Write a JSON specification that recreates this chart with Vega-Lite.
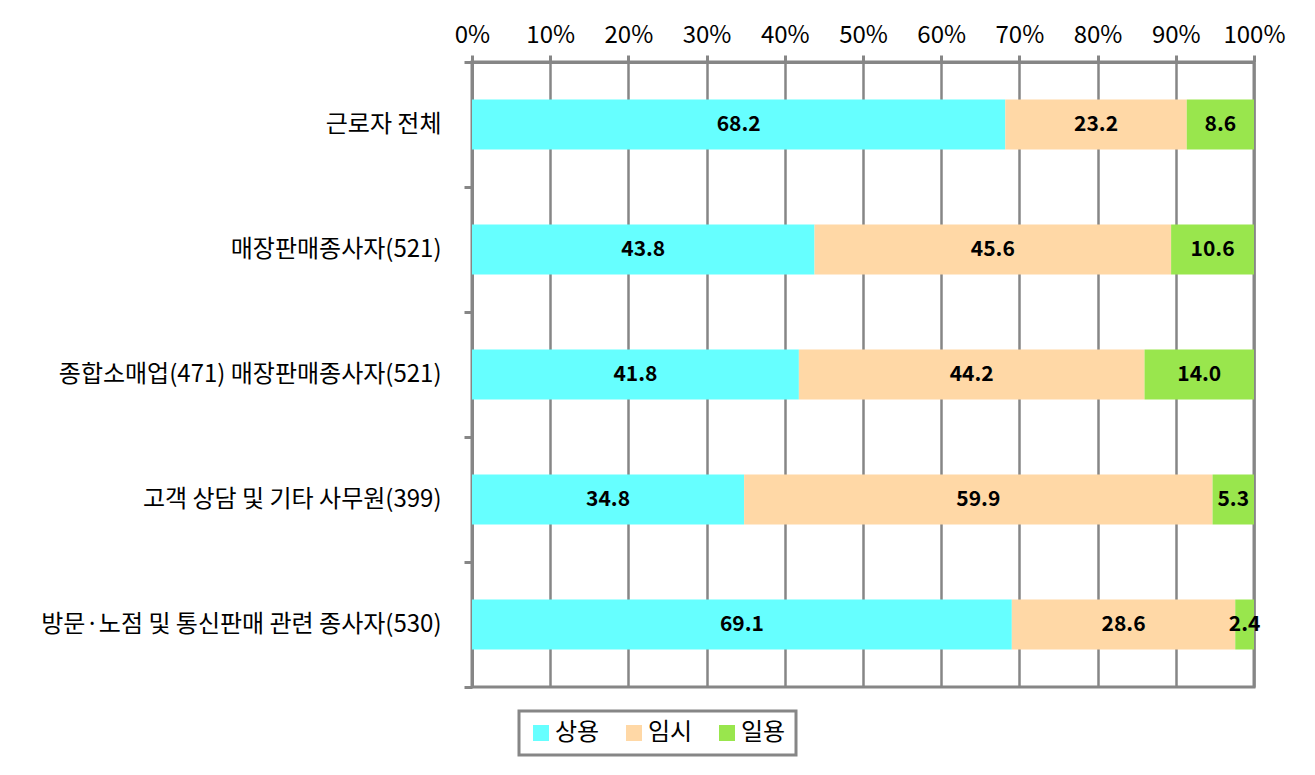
{
  "$schema": "https://vega.github.io/schema/vega-lite/v6.json",
  "width": 782,
  "height": 625,
  "autosize": {"type": "none"},
  "padding": {"left": 472, "top": 62, "right": 61, "bottom": 88},
  "background": "white",
  "config": {
    "font": "Noto Sans CJK KR",
    "view": {"stroke": "#868686", "strokeWidth": 3}
  },
  "data": {
    "values": [
      {"cat": "근로자 전체", "type": "상용", "ord": 1, "v": 68.2},
      {"cat": "근로자 전체", "type": "임시", "ord": 2, "v": 23.2},
      {"cat": "근로자 전체", "type": "일용", "ord": 3, "v": 8.6},
      {"cat": "매장판매종사자(521)", "type": "상용", "ord": 1, "v": 43.8},
      {"cat": "매장판매종사자(521)", "type": "임시", "ord": 2, "v": 45.6},
      {"cat": "매장판매종사자(521)", "type": "일용", "ord": 3, "v": 10.6},
      {"cat": "종합소매업(471) 매장판매종사자(521)", "type": "상용", "ord": 1, "v": 41.8},
      {"cat": "종합소매업(471) 매장판매종사자(521)", "type": "임시", "ord": 2, "v": 44.2},
      {"cat": "종합소매업(471) 매장판매종사자(521)", "type": "일용", "ord": 3, "v": 14.0},
      {"cat": "고객 상담 및 기타 사무원(399)", "type": "상용", "ord": 1, "v": 34.8},
      {"cat": "고객 상담 및 기타 사무원(399)", "type": "임시", "ord": 2, "v": 59.9},
      {"cat": "고객 상담 및 기타 사무원(399)", "type": "일용", "ord": 3, "v": 5.3},
      {"cat": "방문·노점 및 통신판매 관련 종사자(530)", "type": "상용", "ord": 1, "v": 69.1},
      {"cat": "방문·노점 및 통신판매 관련 종사자(530)", "type": "임시", "ord": 2, "v": 28.6},
      {"cat": "방문·노점 및 통신판매 관련 종사자(530)", "type": "일용", "ord": 3, "v": 2.4}
    ]
  },
  "transform": [
    {"stack": "v", "groupby": ["cat"], "sort": [{"field": "ord", "order": "ascending"}], "offset": "normalize", "as": ["x0", "x1"]},
    {"calculate": "(datum.x0 + datum.x1) / 2", "as": "xm"}
  ],
  "encoding": {
    "y": {
      "field": "cat",
      "type": "nominal",
      "sort": ["근로자 전체", "매장판매종사자(521)", "종합소매업(471) 매장판매종사자(521)", "고객 상담 및 기타 사무원(399)", "방문·노점 및 통신판매 관련 종사자(530)"],
      "scale": {"paddingInner": 0, "paddingOuter": 0},
      "axis": {
        "title": null,
        "labelFontSize": 24,
        "labelColor": "#000000",
        "labelLimit": 600,
        "labelPadding": 23,
        "tickBand": "extent",
        "tickSize": 8,
        "tickColor": "#868686",
        "tickWidth": 3,
        "domainColor": "#868686",
        "domainWidth": 3
      }
    }
  },
  "layer": [
    {
      "mark": {"type": "bar", "height": {"band": 0.4}},
      "encoding": {
        "x": {
          "field": "x0",
          "type": "quantitative",
          "scale": {"domain": [0, 1], "nice": false},
          "axis": {
            "orient": "top",
            "title": null,
            "format": ".0%",
            "values": [0, 0.1, 0.2, 0.3, 0.4, 0.5, 0.6, 0.7, 0.8, 0.9, 1],
            "grid": true,
            "gridColor": "#868686",
            "gridWidth": 2.5,
            "gridOpacity": 1,
            "tickColor": "#868686",
            "tickWidth": 3,
            "tickSize": 7,
            "domainColor": "#868686",
            "domainWidth": 3,
            "labelFontSize": 24,
            "labelColor": "#000000",
            "labelPadding": 8,
            "labelFlush": false
          }
        },
        "x2": {"field": "x1"},
        "color": {
          "field": "type",
          "type": "nominal",
          "sort": ["상용", "임시", "일용"],
          "scale": {"domain": ["상용", "임시", "일용"], "range": ["#66FFFF", "#FFD8A6", "#99E64D"]},
          "legend": {
            "title": null,
            "orient": "none",
            "direction": "horizontal",
            "legendX": 47,
            "legendY": 649,
            "symbolType": "square",
            "symbolSize": 256,
            "symbolStrokeWidth": 0,
            "labelFontSize": 24,
            "labelColor": "#000000",
            "labelOffset": 2,
            "columnPadding": 22,
            "padding": 10,
            "strokeColor": "#868686",
            "fillColor": "white",
            "encode": {"legend": {"update": {"strokeWidth": {"value": 3}}}}
          }
        },
        "order": {"field": "ord"}
      }
    },
    {
      "mark": {"type": "text", "fontWeight": "bold", "fontSize": 21, "color": "#000000", "baseline": "middle", "align": "center"},
      "encoding": {
        "x": {"field": "xm", "type": "quantitative"},
        "text": {"field": "v", "type": "quantitative", "format": ".1f"}
      }
    }
  ]
}
